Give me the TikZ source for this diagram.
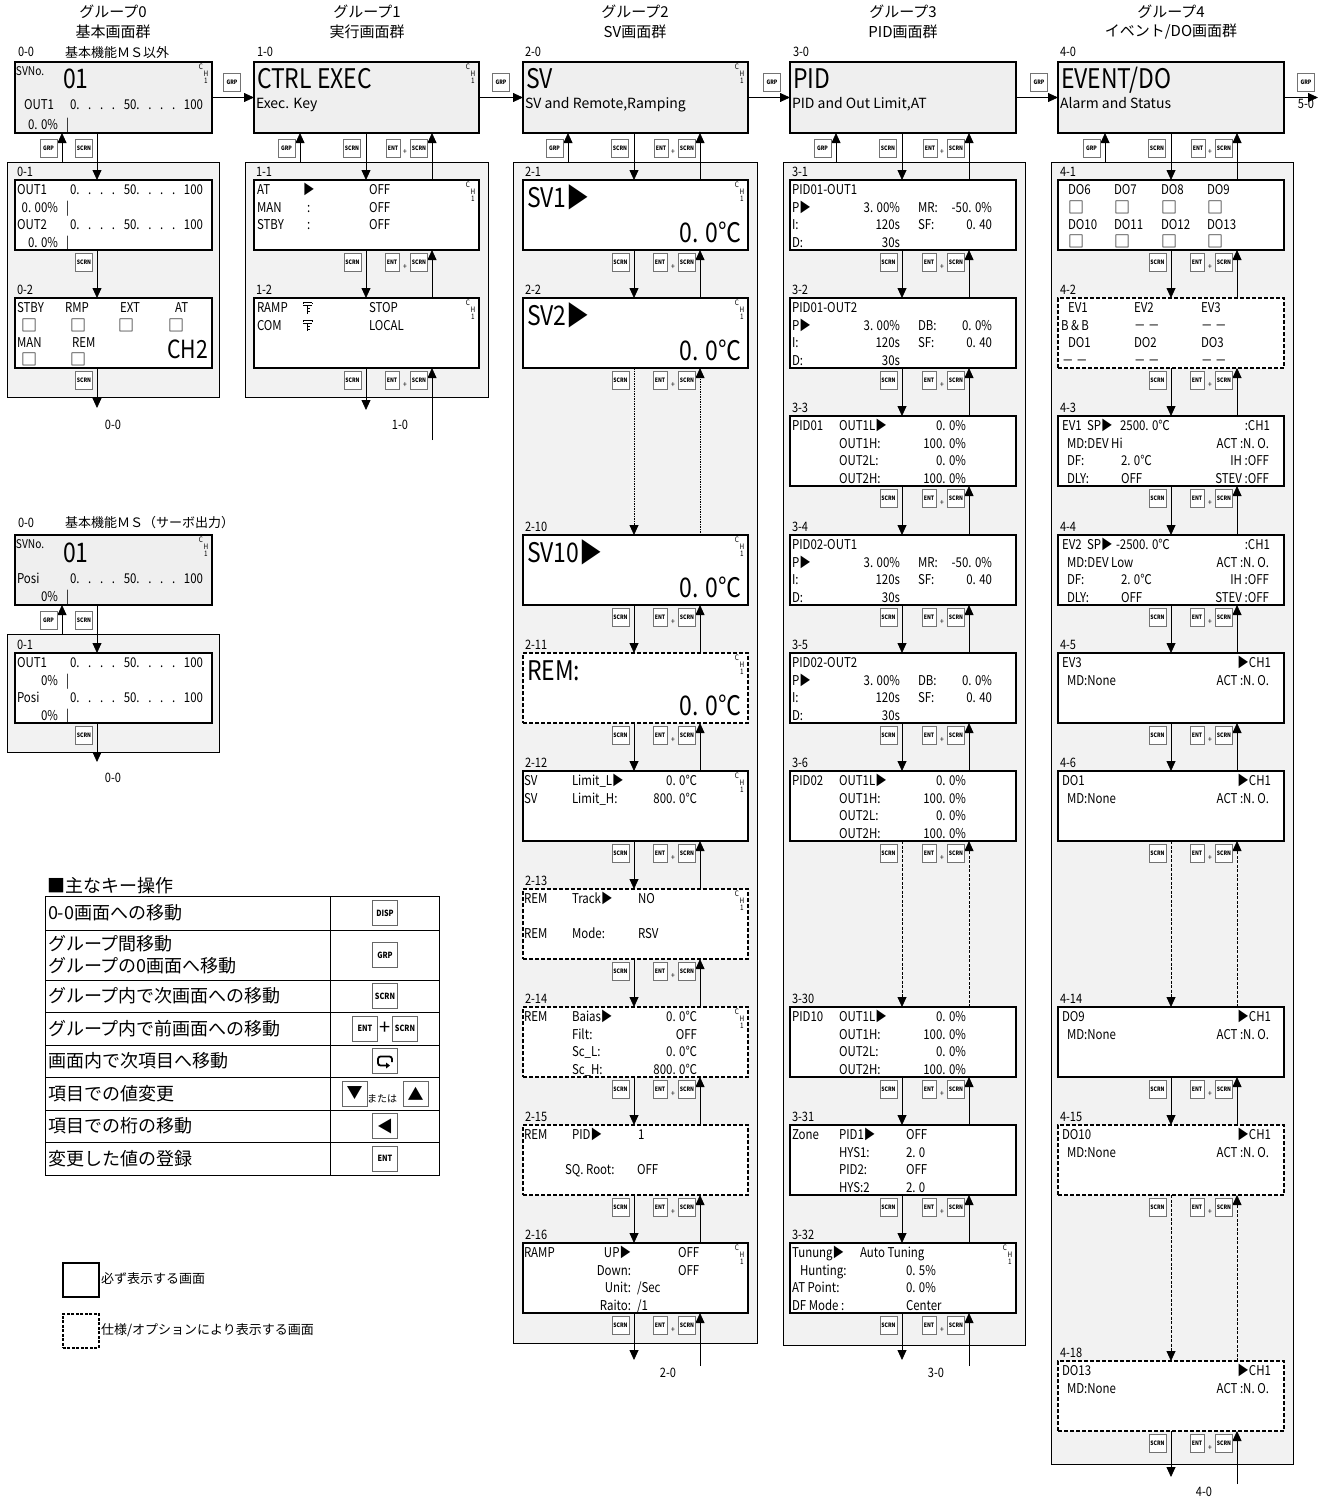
\documentclass[tikz,border=0pt]{standalone}
\usepackage{fontspec}
\setmainfont{Noto Sans CJK JP}
\newfontfamily\lcd[FakeStretch=0.85]{Noto Sans CJK JP}
\newfontfamily\jpf{Noto Sans CJK JP}
\usetikzlibrary{arrows.meta,calc}
\definecolor{pangray}{HTML}{F2F2F2}
\definecolor{hdrgray}{HTML}{EFEFEF}
\newcounter{nn}
\newcommand\Tl[4][]{\stepcounter{nn}\node[txt,anchor=base west,#1] (t\arabic{nn}) at (#2,#3) {#4};}
\newcommand\Tr[4][]{\stepcounter{nn}\node[txt,anchor=base east,#1] (t\arabic{nn}) at (#2,#3) {#4};}
\newcommand\Tc[4][]{\stepcounter{nn}\node[txt,anchor=center,#1] (t\arabic{nn}) at (#2,#3) {#4};}
\newcommand\Key[3][kbox]{\stepcounter{nn}\node[#1] (k\arabic{nn}) at (#2) {#3};}
\def\RA{14.5}\def\RB{32}\def\RC{49.5}\def\RD{67}
\newcommand\CH[1]{\Tc[tiny]{#1-11}{5}{C}\Tc[tiny]{#1-6}{12}{H}\Tc[tiny]{#1-6}{19}{1}}
\newcommand\Scale[2]{\stepcounter{nn}\node[txt,anchor=base west] (t\arabic{nn}) at (#1,#2) {\makebox[133pt][l]{0.\hfill.\hfill.\hfill.\hfill50.\hfill.\hfill.\hfill.\hfill100}};}
\newcommand\Scr[5][]{\node[scr,minimum width=#5pt,#1] (#2) at (#3,#4) {};}
\newcommand\Panel[5]{\node[panel,minimum width=#4pt,minimum height=#5pt] (#1) at (#2,#3) {};}
\newcommand\SL[3]{\Tl[lbl]{#1}{#2}{#3}}
\newcommand\KeysDU[3]{%
 \Key{$(#1.south -| #2)+(-13.5,12.5)$}{SCRN}
 \Key[keyE]{$(#1.south -| #3)+(-40,12.5)$}{ENT}
 \Key[kplus]{$(#1.south -| #3)+(-27,17)$}{+}
 \Key{$(#1.south -| #3)+(-13,12.5)$}{SCRN}}
\newcommand\Link[5][]{%
 \draw[arr,#1] (#2.south -| #4) -- (#3.north -| #4);
 \draw[arr,#1] (#3.north -| #5) -- (#2.south -| #5);
 \KeysDU{#2}{#4}{#5}}
\newcommand\Tail[5]{%
 \draw[arr] (#1.south -| #2) -- (#4);
 \draw[arr] (#5) -- (#1.south -| #3);
 \KeysDU{#1}{#2}{#3}}
\newcommand\HeadA[6]{%
 \draw[arr] (#1.south -| #3) -- (#2.north -| #3);
 \draw[arr] (#2.north -| #4) -- (#1.south -| #4);
 \draw[arr] (#6.north -| #5) -- (#1.south -| #5);
 \Key{$(#1.south -| #5)+(-13.5,15)$}{GRP}
 \Key{$(#1.south -| #3)+(-14,15)$}{SCRN}
 \Key[keyE]{$(#1.south -| #4)+(-39,15)$}{ENT}
 \Key[kplus]{$(#1.south -| #4)+(-27,19)$}{+}
 \Key{$(#1.south -| #4)+(-13,15)$}{SCRN}}
\newcommand\HeadZ[5]{%
 \draw[arr] (#1.south -| #3) -- (#2.north -| #3);
 \draw[arr] (#5.north -| #4) -- (#1.south -| #4);
 \Key{$(#1.south -| #4)+(-13.5,15)$}{GRP}
 \Key{$(#1.south -| #3)+(-13,15)$}{SCRN}}
\newcommand\Lock[2]{\draw[line width=0.8pt] (#1,#2-10)--(#1+9,#2-10) (#1,#2-10)--(#1,#2-8.5) (#1+9,#2-10)--(#1+9,#2-8.5) (#1,#2-7)--(#1+9,#2-7) (#1+4.5,#2-7)--(#1+4.5,#2+1) (#1+4.5,#2-4)--(#1+7,#2-4) (#1+4.5,#2-1)--(#1+7,#2-1);}
\newcommand\PidOut[3]{\Tl{2}{\RA}{#1}\Tl{2}{\RB}{P▶}\Tr{110}{\RB}{3. 00\%}\Tl{128}{\RB}{#2}\Tr{202}{\RB}{#3}\Tl{2}{\RC}{I:}\Tr{110}{\RC}{120s}\Tl{128}{\RC}{SF:}\Tr{202}{\RC}{0. 40}\Tl{2}{\RD}{D:}\Tr{110}{\RD}{30s}}
\newcommand\PidLim[1]{\Tl{2}{\RA}{#1}\Tl{49}{\RA}{OUT1L▶}\Tr{176}{\RA}{0. 0\%}\Tl{49}{\RB}{OUT1H:}\Tr{176}{\RB}{100. 0\%}\Tl{49}{\RC}{OUT2L:}\Tr{176}{\RC}{0. 0\%}\Tl{49}{\RD}{OUT2H:}\Tr{176}{\RD}{100. 0\%}}
\newcommand\DoScr[1]{\Tl{4}{\RA}{#1}\Tr{213}{\RA}{▶CH1}\Tl{9}{\RB}{MD:None}\Tr{211}{\RB}{ACT :N. O.}}
\newcommand\BigSV[1]{\Tl[big]{4}{27}{#1}\Tr[big]{218}{62}{0. 0℃}\CH{225}}
\tikzset{
 txt/.style={inner sep=0pt, outer sep=0pt, font=\lcd\fontsize{13.5}{14}\selectfont},
 big/.style={font=\lcd\fontsize{27}{28}\selectfont},
 bigb/.style={font=\lcd\fontsize{25}{26}\selectfont},
 sub/.style={font=\jpf\fontsize{14}{15}\selectfont},
 sm/.style={font=\lcd\fontsize{12}{13}\selectfont},
 lbl/.style={font=\lcd\fontsize{13}{14}\selectfont},
 tiny/.style={font=\lcd\fontsize{7.5}{8}\selectfont},
 chk/.style={font=\jpf\fontsize{16}{16}\selectfont},
 ttl/.style={font=\jpf\fontsize{15}{16}\selectfont},
 jp13/.style={font=\jpf\fontsize{13}{14}\selectfont},
 tbl/.style={font=\jpf\fontsize{18}{20}\selectfont},
 scr/.style={draw, line width=2.5pt, fill=white, minimum height=70pt, anchor=north west, inner sep=0pt, outer sep=0pt},
 dsh/.style={dash pattern=on 4pt off 2pt},
 hdr/.style={fill=hdrgray, minimum height=71pt},
 panel/.style={draw, line width=0.8pt, fill=pangray, anchor=north west, inner sep=0pt, outer sep=0pt},
 arr/.style={line width=0.8pt, -{Triangle[length=10pt,width=9pt]}},
 dotl/.style={dash pattern=on 1.5pt off 1pt},
 dshl/.style={dash pattern=on 3pt off 1.5pt},
 kbox/.style={draw=black!55, line width=0.6pt, fill=white, inner sep=0pt, minimum width=17pt, minimum height=18pt, font=\lcd\bfseries\fontsize{6}{6}\selectfont},
 keyE/.style={kbox, minimum width=14pt},
 kplus/.style={inner sep=0pt, font=\lcd\fontsize{8}{8}\selectfont},
 tkey/.style={draw=black!60, line width=1pt, fill=white, inner sep=0pt, minimum width=25pt, minimum height=25pt, font=\lcd\bfseries\fontsize{8.5}{9}\selectfont},
}
\begin{document}
\begin{tikzpicture}[x=1pt,y=-1pt]
\useasboundingbox (0,0) rectangle (1329,1502);
\fill[white] (0,0) rectangle (1329,1502);
% column coordinates
\coordinate (d0) at (97,0); \coordinate (g0) at (62,0);
\coordinate (d1) at (366,0); \coordinate (u1) at (432,0); \coordinate (g1) at (300,0);
\coordinate (d2) at (634,0); \coordinate (u2) at (700,0); \coordinate (g2) at (568,0);
\coordinate (d3) at (902,0); \coordinate (u3) at (969,0); \coordinate (g3) at (836,0);
\coordinate (d4) at (1171,0); \coordinate (u4) at (1237,0); \coordinate (g4) at (1105,0);
% panels
\Panel{p0}{7}{162}{212}{235}
\Panel{p1}{245}{162}{243}{235}
\Panel{p2}{513}{162}{244}{1181}
\Panel{p3}{783}{162}{242}{1183}
\Panel{p4}{1051}{162}{242}{1302}
\Panel{pm}{7}{634}{212}{118}
% headers
\Scr[hdr]{h0}{15}{62}{197}
\Scr[hdr]{h1}{254}{62}{225}
\Scr[hdr]{h2}{523}{62}{225}
\Scr[hdr]{h3}{790}{62}{226}
\Scr[hdr]{h4}{1058}{62}{226}
\Scr[hdr,minimum height=70pt]{hm}{15}{535}{197}
% screens
\Scr{s01}{15}{180}{197} \Scr{s02}{15}{298}{197}
\Scr{s11}{254}{180}{225} \Scr{s12}{254}{298}{225}
\Scr{s21}{523}{180}{225} \Scr{s22}{523}{298}{225} \Scr{s210}{523}{535}{225}
\Scr[dsh]{s211}{523}{653}{225} \Scr{s212}{523}{771}{225} \Scr[dsh]{s213}{523}{889}{225}
\Scr[dsh]{s214}{523}{1007}{225} \Scr[dsh]{s215}{523}{1125}{225} \Scr{s216}{523}{1243}{225}
\Scr{s31}{790}{180}{226} \Scr{s32}{790}{298}{226} \Scr{s33}{790}{416}{226}
\Scr{s34}{790}{535}{226} \Scr{s35}{790}{653}{226} \Scr{s36}{790}{771}{226}
\Scr{s330}{790}{1007}{226} \Scr{s331}{790}{1125}{226} \Scr{s332}{790}{1243}{226}
\Scr{s41}{1058}{180}{226} \Scr[dsh]{s42}{1058}{298}{226} \Scr{s43}{1058}{416}{226}
\Scr{s44}{1058}{535}{226} \Scr{s45}{1058}{653}{226} \Scr{s46}{1058}{771}{226}
\Scr{s414}{1058}{1007}{226} \Scr[dsh]{s415}{1058}{1125}{226} \Scr[dsh]{s418}{1058}{1361}{226}
\Scr{sm1}{15}{653}{197}
% titles
\Tc[ttl]{113}{12}{グループ0} \Tc[ttl]{113}{32}{基本画面群}
\Tc[ttl]{367}{12}{グループ1} \Tc[ttl]{367}{32}{実行画面群}
\Tc[ttl]{635}{12}{グループ2} \Tc[ttl]{635}{32}{SV画面群}
\Tc[ttl]{903}{12}{グループ3} \Tc[ttl]{903}{32}{PID画面群}
\Tc[ttl]{1171}{12}{グループ4} \Tc[ttl]{1171}{32}{イベント/DO画面群}
\SL{18}{56}{0-0} \Tl[jp13]{65}{57}{基本機能ＭＳ以外}
\SL{257}{56}{1-0} \SL{525}{56}{2-0} \SL{793}{56}{3-0} \SL{1060}{56}{4-0}
\SL{17}{176}{0-1} \SL{17}{294}{0-2}
\SL{256}{176}{1-1} \SL{256}{294}{1-2}
\SL{525}{176}{2-1} \SL{525}{294}{2-2} \SL{525}{531}{2-10} \SL{525}{649}{2-11} \SL{525}{767}{2-12}
\SL{525}{885}{2-13} \SL{525}{1003}{2-14} \SL{525}{1121}{2-15} \SL{525}{1239}{2-16}
\SL{792}{176}{3-1} \SL{792}{294}{3-2} \SL{792}{412}{3-3} \SL{792}{531}{3-4} \SL{792}{649}{3-5}
\SL{792}{767}{3-6} \SL{792}{1003}{3-30} \SL{792}{1121}{3-31} \SL{792}{1239}{3-32}
\SL{1060}{176}{4-1} \SL{1060}{294}{4-2} \SL{1060}{412}{4-3} \SL{1060}{531}{4-4} \SL{1060}{649}{4-5}
\SL{1060}{767}{4-6} \SL{1060}{1003}{4-14} \SL{1060}{1121}{4-15} \SL{1060}{1357}{4-18}
\SL{18}{527}{0-0} \Tl[jp13]{65}{527}{基本機能ＭＳ（サーボ出力）}
\SL{17}{649}{0-1}
% group-to-group arrows
\draw[arr] (h0.east) -- (h0.east -| h1.west); \Key{232,82}{GRP}
\draw[arr] (h1.east) -- (h1.east -| h2.west); \Key{501,82}{GRP}
\draw[arr] (h2.east) -- (h2.east -| h3.west); \Key{772,82}{GRP}
\draw[arr] (h3.east) -- (h3.east -| h4.west); \Key{1039,82}{GRP}
\coordinate (o5) at (1318,97.5);
\draw[arr] (h4.east) -- (o5); \Key{1306,82}{GRP}
\Tc[lbl]{1306}{104}{5-0}
% group 0 links
\HeadZ{h0}{s01}{d0}{g0}{p0}
\draw[arr] (s01.south -| d0) -- (s02.north -| d0); \Key{$(s01.south -| d0)+(-13,12.5)$}{SCRN}
\coordinate (e0) at (97,408);
\draw[arr] (s02.south -| d0) -- (e0); \Key{$(s02.south -| d0)+(-13,12.5)$}{SCRN}
\Tc[lbl]{113}{425}{0-0}
% MS links
\HeadZ{hm}{sm1}{d0}{g0}{pm}
\coordinate (em) at (97,762);
\draw[arr] (sm1.south -| d0) -- (em); \Key{$(sm1.south -| d0)+(-13,12.5)$}{SCRN}
\Tc[lbl]{113}{778}{0-0}
% group 1 links
\HeadA{h1}{s11}{d1}{u1}{g1}{p1}
\Link{s11}{s12}{d1}{u1}
\coordinate (e1) at (366,410); \coordinate (b1) at (432,440);
\Tail{s12}{d1}{u1}{e1}{b1}
\Tc[lbl]{400}{425}{1-0}
% group 2 links
\HeadA{h2}{s21}{d2}{u2}{g2}{p2}
\Link{s21}{s22}{d2}{u2}
\Link[dotl]{s22}{s210}{d2}{u2}
\Link{s210}{s211}{d2}{u2}
\Link{s211}{s212}{d2}{u2}
\Link{s212}{s213}{d2}{u2}
\Link{s213}{s214}{d2}{u2}
\Link{s214}{s215}{d2}{u2}
\Link{s215}{s216}{d2}{u2}
\coordinate (e2) at (634,1360); \coordinate (b2) at (700,1366);
\Tail{s216}{d2}{u2}{e2}{b2}
\Tc[lbl]{668}{1373}{2-0}
% group 3 links
\HeadA{h3}{s31}{d3}{u3}{g3}{p3}
\Link{s31}{s32}{d3}{u3}
\Link{s32}{s33}{d3}{u3}
\Link{s33}{s34}{d3}{u3}
\Link{s34}{s35}{d3}{u3}
\Link{s35}{s36}{d3}{u3}
\Link[dshl]{s36}{s330}{d3}{u3}
\Link{s330}{s331}{d3}{u3}
\Link{s331}{s332}{d3}{u3}
\coordinate (e3) at (902,1360); \coordinate (b3) at (969,1366);
\Tail{s332}{d3}{u3}{e3}{b3}
\Tc[lbl]{936}{1373}{3-0}
% group 4 links
\HeadA{h4}{s41}{d4}{u4}{g4}{p4}
\Link{s41}{s42}{d4}{u4}
\Link{s42}{s43}{d4}{u4}
\Link{s43}{s44}{d4}{u4}
\Link{s44}{s45}{d4}{u4}
\Link{s45}{s46}{d4}{u4}
\Link[dshl]{s46}{s414}{d4}{u4}
\Link{s414}{s415}{d4}{u4}
\Link[dshl]{s415}{s418}{d4}{u4}
\coordinate (e4) at (1171,1477); \coordinate (b4) at (1237,1484);
\Tail{s418}{d4}{u4}{e4}{b4}
\Tc[lbl]{1204}{1492}{4-0}
% ---------- screen contents ----------
\begin{scope}[shift={(15,62)}]
\Tl[sm]{1}{13}{SVNo.} \Tl[big]{48}{26}{01}
\Tl{9}{47}{OUT1} \Scale{55}{47}
\Tr{43}{67}{0. 0\%} \Tl{51}{67}{|} \CH{197}
\end{scope}
\begin{scope}[shift={(15,180)}]
\Tl{2}{\RA}{OUT1} \Scale{55}{\RA} \Tr{43}{\RB}{0. 00\%} \Tl{51}{\RB}{|}
\Tl{2}{\RC}{OUT2} \Scale{55}{\RC} \Tr{43}{\RD}{0. 0\%} \Tl{51}{\RD}{|}
\end{scope}
\begin{scope}[shift={(15,298)}]
\Tl{2}{\RA}{STBY} \Tl{50}{\RA}{RMP} \Tl{105}{\RA}{EXT} \Tl{160}{\RA}{AT}
\Tl[chk]{6}{\RB+1}{□} \Tl[chk]{55}{\RB+1}{□} \Tl[chk]{103}{\RB+1}{□} \Tl[chk]{153}{\RB+1}{□}
\Tl{2}{\RC}{MAN} \Tl{57}{\RC}{REM}
\Tl[chk]{6}{\RD}{□} \Tl[chk]{55}{\RD}{□}
\Tr[bigb]{193}{60}{CH2}
\end{scope}
\begin{scope}[shift={(15,535)}]
\Tl[sm]{1}{13}{SVNo.} \Tl[big]{48}{27}{01}
\Tl{2}{48}{Posi} \Scale{55}{48}
\Tr{43}{66}{0\%} \Tl{51}{66}{|} \CH{197}
\end{scope}
\begin{scope}[shift={(15,653)}]
\Tl{2}{\RA}{OUT1} \Scale{55}{\RA} \Tr{43}{\RB}{0\%} \Tl{51}{\RB}{|}
\Tl{2}{\RC}{Posi} \Scale{55}{\RC} \Tr{43}{\RD}{0\%} \Tl{51}{\RD}{|}
\end{scope}
% group 1
\begin{scope}[shift={(254,62)}]
\Tl[big]{3}{26}{CTRL EXEC} \Tl[sub]{2}{46}{Exec. Key} \CH{225}
\end{scope}
\begin{scope}[shift={(254,180)}]
\Tl{3}{\RA}{AT} \Tl{49}{\RA}{▶} \Tl{115}{\RA}{OFF}
\Tl{3}{\RB}{MAN} \Tl{53}{\RB}{:} \Tl{115}{\RB}{OFF}
\Tl{3}{\RC}{STBY} \Tl{53}{\RC}{:} \Tl{115}{\RC}{OFF} \CH{225}
\end{scope}
\begin{scope}[shift={(254,298)}]
\Tl{3}{\RA}{RAMP} \Lock{49}{\RA} \Tl{115}{\RA}{STOP}
\Tl{3}{\RB}{COM} \Lock{49}{\RB} \Tl{115}{\RB}{LOCAL} \CH{225}
\end{scope}
% group 2
\begin{scope}[shift={(523,62)}]
\Tl[big]{3}{26}{SV} \Tl[sub]{2}{46}{SV and Remote,Ramping} \CH{225}
\end{scope}
\begin{scope}[shift={(523,180)}] \BigSV{SV1▶} \end{scope}
\begin{scope}[shift={(523,298)}] \BigSV{SV2▶} \end{scope}
\begin{scope}[shift={(523,535)}] \BigSV{SV10▶} \end{scope}
\begin{scope}[shift={(523,653)}] \BigSV{REM:} \end{scope}
\begin{scope}[shift={(523,771)}]
\Tl{1}{\RA}{SV} \Tl{49}{\RA}{Limit\_L▶} \Tr{174}{\RA}{0. 0℃}
\Tl{1}{\RB}{SV} \Tl{49}{\RB}{Limit\_H:} \Tr{174}{\RB}{800. 0℃} \CH{225}
\end{scope}
\begin{scope}[shift={(523,889)}]
\Tl{1}{\RA}{REM} \Tl{49}{\RA}{Track▶} \Tl{115}{\RA}{NO}
\Tl{1}{\RC}{REM} \Tl{49}{\RC}{Mode:} \Tl{115}{\RC}{RSV} \CH{225}
\end{scope}
\begin{scope}[shift={(523,1007)}]
\Tl{1}{\RA}{REM} \Tl{49}{\RA}{Baias▶} \Tr{174}{\RA}{0. 0℃}
\Tl{49}{\RB}{Filt:} \Tr{174}{\RB}{OFF}
\Tl{49}{\RC}{Sc\_L:} \Tr{174}{\RC}{0. 0℃}
\Tl{49}{\RD}{Sc\_H:} \Tr{174}{\RD}{800. 0℃} \CH{225}
\end{scope}
\begin{scope}[shift={(523,1125)}]
\Tl{1}{\RA}{REM} \Tl{49}{\RA}{PID▶} \Tl{115}{\RA}{1}
\Tl{42}{\RC}{SQ. Root:} \Tl{114}{\RC}{OFF}
\end{scope}
\begin{scope}[shift={(523,1243)}]
\Tl{1}{\RA}{RAMP} \Tr{108}{\RA}{UP▶} \Tl{155}{\RA}{OFF}
\Tr{108}{\RB}{Down:} \Tl{155}{\RB}{OFF}
\Tr{108}{\RC}{Unit:} \Tl{114}{\RC}{/Sec}
\Tr{108}{\RD}{Raito:} \Tl{114}{\RD}{/1} \CH{225}
\end{scope}
% group 3
\begin{scope}[shift={(790,62)}]
\Tl[big]{3}{26}{PID} \Tl[sub]{2}{46}{PID and Out Limit,AT}
\end{scope}
\begin{scope}[shift={(790,180)}] \PidOut{PID01-OUT1}{MR:}{-50. 0\%} \end{scope}
\begin{scope}[shift={(790,298)}] \PidOut{PID01-OUT2}{DB:}{0. 0\%} \end{scope}
\begin{scope}[shift={(790,416)}] \PidLim{PID01} \end{scope}
\begin{scope}[shift={(790,535)}] \PidOut{PID02-OUT1}{MR:}{-50. 0\%} \end{scope}
\begin{scope}[shift={(790,653)}] \PidOut{PID02-OUT2}{DB:}{0. 0\%} \end{scope}
\begin{scope}[shift={(790,771)}] \PidLim{PID02} \end{scope}
\begin{scope}[shift={(790,1007)}] \PidLim{PID10} \end{scope}
\begin{scope}[shift={(790,1125)}]
\Tl{2}{\RA}{Zone} \Tl{49}{\RA}{PID1▶} \Tl{116}{\RA}{OFF}
\Tl{49}{\RB}{HYS1:} \Tl{116}{\RB}{2. 0}
\Tl{49}{\RC}{PID2:} \Tl{116}{\RC}{OFF}
\Tl{49}{\RD}{HYS:2} \Tl{116}{\RD}{2. 0}
\end{scope}
\begin{scope}[shift={(790,1243)}]
\Tl{2}{\RA}{Tunung▶} \Tl{70}{\RA}{Auto Tuning}
\Tl{10}{\RB}{Hunting:} \Tl{116}{\RB}{0. 5\%}
\Tl{2}{\RC}{AT Point:} \Tl{116}{\RC}{0. 0\%}
\Tl{2}{\RD}{DF Mode :} \Tl{116}{\RD}{Center} \CH{226}
\end{scope}
% group 4
\begin{scope}[shift={(1058,62)}]
\Tl[big]{3}{26}{EVENT/DO} \Tl[sub]{2}{46}{Alarm and Status}
\end{scope}
\begin{scope}[shift={(1058,180)}]
\foreach \x/\a/\b in {10/DO6/DO10,56/DO7/DO11,103/DO8/DO12,149/DO9/DO13}{%
 \Tl{\x}{\RA}{\a} \Tl[chk]{\x}{\RB+1}{□} \Tl{\x}{\RC}{\b} \Tl[chk]{\x}{\RD}{□}}
\end{scope}
\begin{scope}[shift={(1058,298)}]
\Tl{10}{\RA}{EV1} \Tl{76}{\RA}{EV2} \Tl{143}{\RA}{EV3}
\Tl{3}{\RB}{B \& B} \Tl{76}{\RB}{－ －} \Tl{143}{\RB}{－ －}
\Tl{10}{\RC}{DO1} \Tl{76}{\RC}{DO2} \Tl{143}{\RC}{DO3}
\Tl{4}{\RD}{－ －} \Tl{76}{\RD}{－ －} \Tl{143}{\RD}{－ －}
\end{scope}
\begin{scope}[shift={(1058,416)}]
\Tl{4}{\RA}{EV1} \Tl{29}{\RA}{SP▶} \Tl{62}{\RA}{2500. 0℃} \Tr{212}{\RA}{:CH1}
\Tl{9}{\RB}{MD:DEV Hi} \Tr{211}{\RB}{ACT :N. O.}
\Tl{9}{\RC}{DF:} \Tl{63}{\RC}{2. 0℃} \Tr{211}{\RC}{IH :OFF}
\Tl{9}{\RD}{DLY:} \Tl{63}{\RD}{OFF} \Tr{211}{\RD}{STEV :OFF}
\end{scope}
\begin{scope}[shift={(1058,535)}]
\Tl{4}{\RA}{EV2} \Tl{29}{\RA}{SP▶} \Tl{58}{\RA}{-2500. 0℃} \Tr{212}{\RA}{:CH1}
\Tl{9}{\RB}{MD:DEV Low} \Tr{211}{\RB}{ACT :N. O.}
\Tl{9}{\RC}{DF:} \Tl{63}{\RC}{2. 0℃} \Tr{211}{\RC}{IH :OFF}
\Tl{9}{\RD}{DLY:} \Tl{63}{\RD}{OFF} \Tr{211}{\RD}{STEV :OFF}
\end{scope}
\begin{scope}[shift={(1058,653)}] \DoScr{EV3} \end{scope}
\begin{scope}[shift={(1058,771)}] \DoScr{DO1} \end{scope}
\begin{scope}[shift={(1058,1007)}] \DoScr{DO9} \end{scope}
\begin{scope}[shift={(1058,1125)}] \DoScr{DO10} \end{scope}
\begin{scope}[shift={(1058,1361)}] \DoScr{DO13} \end{scope}
% ---------- key table ----------
\Tl[tbl,anchor=west]{47}{886}{■主なキー操作}
\draw[line width=0.8pt] (45,896) rectangle (439,1175);
\draw[line width=0.8pt] (330,896) -- (330,1175);
\foreach \yy in {930,980,1012,1045,1077,1110,1142}{\draw[line width=0.8pt] (45,\yy) -- (439,\yy);}
\Tl[tbl,anchor=west]{48}{913}{0-0画面への移動}
\Tl[tbl,anchor=west]{48}{944}{グループ間移動}
\Tl[tbl,anchor=west]{48}{966}{グループの0画面へ移動}
\Tl[tbl,anchor=west]{48}{996}{グループ内で次画面への移動}
\Tl[tbl,anchor=west]{48}{1028.5}{グループ内で前画面への移動}
\Tl[tbl,anchor=west]{48}{1061}{画面内で次項目へ移動}
\Tl[tbl,anchor=west]{48}{1093.5}{項目での値変更}
\Tl[tbl,anchor=west]{48}{1126}{項目での桁の移動}
\Tl[tbl,anchor=west]{48}{1158.5}{変更した値の登録}
\Key[tkey]{385,913}{DISP}
\Key[tkey]{385,955}{GRP}
\Key[tkey]{385,996}{SCRN}
\Key[tkey]{365,1028.5}{ENT}
\Key[kplus,font=\jpf\fontsize{20}{20}\selectfont]{385,1028.5}{+}
\Key[tkey]{405,1028.5}{SCRN}
\Key[tkey]{385,1061}{}
\draw[line width=1.8pt, rounded corners=2.5pt] (387,1065.5) -- (378,1065.5) -- (378,1056.5) -- (392,1056.5) -- (392,1062);
\fill (386,1062.5) -- (390,1065.5) -- (386,1068.5) -- cycle;
\Key[tkey,font=\jpf\fontsize{16}{16}\selectfont]{354.5,1093.5}{▼}
\Tl[font=\jpf\fontsize{10}{10}\selectfont]{367}{1102}{または}
\Key[tkey,font=\jpf\fontsize{16}{16}\selectfont]{415.5,1093.5}{▲}
\Key[tkey,font=\jpf\fontsize{16}{16}\selectfont]{385,1126}{◀}
\Key[tkey]{385,1158.5}{ENT}
% ---------- legend ----------
\node[draw, line width=1.5pt, minimum width=36pt, minimum height=34pt, anchor=north west, inner sep=0pt] (lg1) at (62,1262) {};
\Tl[jp13,anchor=west]{101}{1279}{必ず表示する画面}
\node[draw, line width=1.5pt, dash pattern=on 3pt off 1.5pt, minimum width=36pt, minimum height=34pt, anchor=north west, inner sep=0pt] (lg2) at (62,1313) {};
\Tl[jp13,anchor=west]{101}{1330}{仕様/オプションにより表示する画面}
\end{tikzpicture}
\end{document}
